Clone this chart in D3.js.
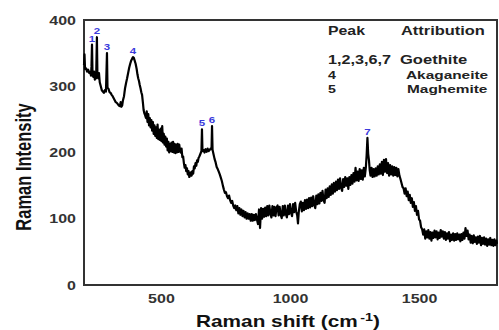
<!DOCTYPE html>
<html>
<head>
<meta charset="utf-8">
<script src="https://cdn.jsdelivr.net/npm/d3@7/dist/d3.min.js"></script>
<style>
  html, body { margin: 0; padding: 0; background: #fff; }
  svg { display: block; }
  text { font-family: "Liberation Sans", Arial, sans-serif; font-weight: bold; }
</style>
</head>
<body>
<svg id="chart" width="499" height="330"></svg>
<script>
// Raman spectrum: shift (cm-1) and intensity readings
const ramanShift = [
  200,202,204,208,212,216,220,224,227,229,231,233,236,239,242,245,247,250,252,255,
  258,261,265,269,273,277,281,285,289,291,295,299,303,307,311,315,319,323,327,331,
  335,339,342,345,348,351,355,359,363,367,371,375,379,383,387,390,393,396,400,404,
  407,410,413,416,419,422,425,428,431,434,437,440,443,446,449,452,455,458,461,464,
  467,470,473,476,479,482,485,488,491,494,497,500,503,506,509,512,515,518,521,524,
  527,530,533,536,539,542,545,548,551,554,557,560,563,566,569,572,575,578,581,584,
  587,590,593,596,599,602,605,608,611,614,617,620,623,626,629,632,635,638,641,644,
  647,650,653,655,657,659,663,667,671,675,679,683,687,691,694,696,698,702,706,710,
  714,718,722,726,730,734,738,742,746,750,754,758,762,766,770,774,778,782,786,790,
  794,798,802,806,810,814,818,822,826,830,834,838,842,846,850,854,858,862,866,870,
  874,878,882,886,890,894,898,902,906,910,914,918,922,926,930,934,938,942,946,950,
  954,958,962,966,970,974,978,982,986,990,994,998,1002,1006,1010,1014,1018,1022,1026,1029,
  1032,1036,1040,1044,1048,1052,1056,1060,1064,1068,1072,1076,1080,1084,1088,1092,1096,1100,1104,1108,
  1112,1116,1120,1124,1128,1132,1136,1140,1144,1148,1152,1156,1160,1164,1168,1172,1176,1180,1184,1188,
  1192,1196,1200,1204,1208,1212,1216,1220,1224,1228,1232,1236,1240,1244,1248,1252,1256,1260,1264,1268,
  1272,1276,1280,1284,1288,1292,1295,1298,1301,1304,1307,1310,1314,1318,1322,1326,1330,1334,1338,1342,
  1346,1350,1354,1358,1362,1366,1370,1374,1378,1382,1386,1390,1394,1398,1402,1406,1410,1414,1418,1422,
  1426,1430,1434,1438,1442,1446,1450,1454,1458,1462,1466,1470,1474,1478,1482,1486,1490,1494,1498,1502,
  1506,1510,1514,1518,1522,1526,1530,1534,1538,1542,1546,1550,1554,1558,1562,1566,1570,1574,1578,1582,
  1586,1590,1594,1598,1602,1606,1610,1614,1618,1622,1626,1630,1634,1638,1642,1646,1650,1654,1658,1662,
  1666,1670,1674,1678,1682,1686,1690,1694,1698,1702,1706,1710,1714,1718,1722,1726,1730,1734,1738,1742,
  1746,1750,1754,1758,1762,1766,1770,1774,1778,1782,1786,1790,1794,1798,1800
];
const intensity = [
  332,348,326,327,322,325,320,322,316,330,363,318,314,322,310,318,312,374,316,312,
  320,306,300,294,292,290,294,292,350,298,296,291,290,287,285,282,279,276,275,273,
  271,270,276,269,271,279,285,297,305,312,320,328,334,339,342,344,343,339,334,326,
  318,312,308,302,297,291,287,276,264,259,256,252,262,246,258,241,252,238,249,233,
  246,228,241,225,238,222,242,220,234,219,236,217,240,215,228,212,224,209,221,203,
  216,200,213,202,215,201,216,200,213,199,212,200,213,201,212,203,200,206,193,194,
  184,177,181,172,176,167,172,163,166,170,165,172,168,179,176,184,180,188,186,192,
  194,197,200,202,235,202,204,200,205,201,206,202,204,206,205,240,204,197,190,185,
  178,175,171,167,162,157,150,144,139,140,134,131,135,128,124,127,120,116,120,113,
  119,108,116,106,114,104,112,102,110,100,108,100,107,97,107,97,106,98,107,99,
  92,114,86,116,100,115,103,117,104,119,105,120,108,102,119,105,118,104,117,120,
  105,118,106,101,119,105,120,107,102,120,107,122,109,104,122,110,124,111,105,93,
  110,122,126,111,124,113,128,115,129,116,131,117,132,119,134,121,116,135,122,137,
  123,139,127,142,128,124,144,131,146,133,149,136,152,138,154,141,156,143,159,145,
  161,147,142,160,148,163,150,161,145,163,151,166,153,169,156,177,158,171,157,175,
  160,173,159,177,164,178,196,222,198,188,173,165,177,163,175,164,176,165,179,167,
  182,168,186,166,189,171,190,169,184,165,181,167,179,165,178,166,177,164,175,165,
  160,154,148,146,138,146,134,141,128,136,124,131,118,125,112,119,106,112,99,97,
  87,84,76,84,70,81,72,83,70,80,67,79,71,82,72,81,69,79,71,83,
  73,81,70,80,68,78,70,80,66,76,68,78,67,77,68,78,69,76,66,77,
  68,79,70,86,74,82,69,76,64,74,63,75,65,72,62,73,64,74,60,71,
  62,72,61,70,59,69,61,71,60,68,59,69,60,67,62
];

// Numbered peaks and their positions on the shift axis
const peakIds = ["1", "2", "3", "4", "5", "6", "7"];
const peakShift = [231, 250, 289, 390, 657, 696, 1298];

// Attribution table
const tableHeader = ["Peak", "Attribution"];
const tablePeaks = ["1,2,3,6,7", "4", "5"];
const tablePhases = ["Goethite", "Akaganeite", "Maghemite"];

// Axis ticks
const xTicks = [500, 1000, 1500];
const yTicks = [0, 100, 200, 300, 400];

const svg = d3.select("#chart");
const plot = { left: 84, right: 497, top: 20, bottom: 285 };

const x = d3.scaleLinear().domain([200, 1800]).range([plot.left, plot.right]);
const y = d3.scaleLinear().domain([0, 400]).range([plot.bottom, plot.top]);

const sx = 1.28; // horizontal stretch of all lettering

function stretchedText(parent, px, py, str, opts) {
  const g = parent.append("g").attr("transform", `translate(${px},${py}) scale(${opts.sx || sx},1)`);
  return g.append("text")
    .attr("x", 0).attr("y", 0)
    .attr("text-anchor", opts.anchor || "start")
    .attr("font-size", opts.size)
    .attr("fill", opts.fill || "#222")
    .text(str);
}

// Frame
const frameColor = "#333";
svg.append("rect")
  .attr("x", plot.left).attr("y", plot.top)
  .attr("width", plot.right - plot.left).attr("height", plot.bottom - plot.top)
  .attr("fill", "none").attr("stroke", frameColor).attr("stroke-width", 2);

// Y axis (labels only)
const yAxis = d3.axisLeft(y).tickValues(yTicks).tickSize(0).tickPadding(0);
const yg = svg.append("g").attr("transform", `translate(${plot.left},0)`).call(yAxis);
yg.select(".domain").remove();
yg.selectAll(".tick text").each(function(d) {
  d3.select(this).remove();
  stretchedText(yg, 76 - plot.left, y(d) + 4.5, String(d), { size: 12.5, anchor: "end", fill: "#333" });
});

// X axis (labels only)
const xAxis = d3.axisBottom(x).tickValues(xTicks).tickSize(0).tickPadding(0);
const xg = svg.append("g").attr("transform", `translate(0,${plot.bottom})`).call(xAxis);
xg.select(".domain").remove();
xg.selectAll(".tick text").each(function(d) {
  d3.select(this).remove();
  stretchedText(xg, x(d), 17.5, String(d), { size: 12.5, anchor: "middle", fill: "#333" });
});

// Axis titles
const xt = svg.append("g").attr("transform", `translate(288,327) scale(1.3,1)`)
  .append("text").attr("text-anchor", "middle").attr("font-size", 16).attr("fill", "#111");
xt.append("tspan").text("Raman shift (cm");
xt.append("tspan").attr("font-size", 11).attr("dy", -6).attr("dx", 2).text("-1");
xt.append("tspan").attr("dy", 6).text(")");

svg.append("g").attr("transform", `translate(31,167) rotate(-90) scale(1,1.35)`)
  .append("text").attr("text-anchor", "middle").attr("font-size", 16.5).attr("fill", "#111")
  .text("Raman Intensity");

// Spectrum
const pts = ramanShift.map((s, i) => [s, intensity[i]]);
const line = d3.line().x(d => x(d[0])).y(d => y(d[1]));
svg.append("path")
  .datum(pts)
  .attr("fill", "none")
  .attr("stroke", "#000")
  .attr("stroke-width", 2.2)
  .attr("stroke-linejoin", "round")
  .attr("d", line);

// Peak numbers above each peak top
peakIds.forEach((id, i) => {
  const s = peakShift[i];
  const v = intensity[ramanShift.indexOf(s)];
  stretchedText(svg, x(s), y(v) - 3, id, { size: 9, anchor: "middle", fill: "#3b3bdc" });
});

// Attribution table
stretchedText(svg, 328, 35, tableHeader[0], { size: 12, sx: 1.32 });
stretchedText(svg, 401, 35, tableHeader[1], { size: 12, sx: 1.37 });
const rowBase = [64, 79, 92.5];
const phaseLeft = [400, 406, 407];
const rowSize = [12, 11, 11];
tablePeaks.forEach((p, i) => {
  stretchedText(svg, 328, rowBase[i], p, { size: i === 0 ? 12 : 10.5, sx: 1.35 });
  stretchedText(svg, phaseLeft[i], rowBase[i], tablePhases[i], { size: rowSize[i], sx: i === 0 ? 1.38 : 1.4 });
});
</script>
</body>
</html>
